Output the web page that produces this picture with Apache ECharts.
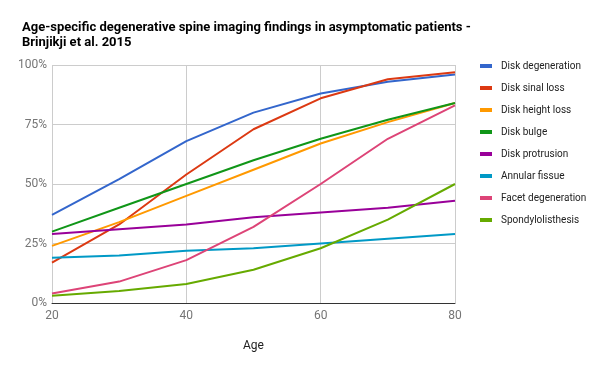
<!DOCTYPE html>
<html><head><meta charset="utf-8">
<script src="https://cdn.jsdelivr.net/npm/echarts@6/dist/echarts.min.js"></script>
<style>html,body{margin:0;padding:0;background:#fff}#c{width:598px;height:366px}</style>
</head><body><div id="c"></div>
<script>
const ages = [20, 30, 40, 50, 60, 70, 80];
const diskDegeneration = [37, 52, 68, 80, 88, 93, 96];
const diskSignalLoss = [17, 33, 54, 73, 86, 94, 97];
const diskHeightLoss = [24, 34, 45, 56, 67, 76, 84];
const diskBulge = [30, 40, 50, 60, 69, 77, 84];
const diskProtrusion = [29, 31, 33, 36, 38, 40, 43];
const annularFissure = [19, 20, 22, 23, 25, 27, 29];
const facetDegeneration = [4, 9, 18, 32, 50, 69, 83];
const spondylolisthesis = [3, 5, 8, 14, 23, 35, 50];
const seriesNames = ['Disk degeneration','Disk sinal loss','Disk height loss','Disk bulge','Disk protrusion','Annular fissue','Facet degeneration','Spondylolisthesis'];
const seriesValues = [diskDegeneration, diskSignalLoss, diskHeightLoss, diskBulge, diskProtrusion, annularFissure, facetDegeneration, spondylolisthesis];
const colors = ['#3366cc','#dc3912','#ff9900','#109618','#990099','#0099c6','#dd4477','#66aa00'];

const chart = echarts.init(document.getElementById('c'));
chart.setOption({
  animation: false,
  color: colors,
  textStyle: {fontFamily: 'Roboto'},
  title: {
    text: 'Age-specific degenerative spine imaging findings in asymptomatic patients -\nBrinjikji et al. 2015',
    left: 17, top: 15,
    textStyle: {fontSize: 13, fontWeight: 'bold', color: '#000', lineHeight: 15, fontFamily: 'Roboto'}
  },
  legend: {
    orient: 'vertical', left: 475, top: 55,
    icon: 'rect', itemWidth: 12, itemHeight: 4, itemGap: 10,
    itemStyle: {borderWidth: 0},
    textStyle: {fontSize: 10, color: '#222', padding: [0,0,0,4], lineHeight: 12},
    data: seriesNames
  },
  grid: {left: 52, right: 143, top: 65, bottom: 63},
  xAxis: {
    type: 'value', min: 20, max: 80, interval: 20,
    name: 'Age', nameLocation: 'middle', nameGap: 37,
    nameTextStyle: {fontSize: 12, color: '#222'},
    axisLine: {show: true, lineStyle: {color: '#333', width: 1}},
    axisTick: {show: false},
    axisLabel: {fontSize: 12, color: '#757575', margin: 7},
    splitLine: {show: true, lineStyle: {color: '#cccccc'}}
  },
  yAxis: {
    type: 'value', min: 0, max: 100, interval: 25,
    axisLine: {show: false}, axisTick: {show: false},
    axisLabel: {fontSize: 12, color: '#757575', margin: 5, formatter: '{value}%'},
    splitLine: {show: true, lineStyle: {color: '#cccccc'}}
  },
  series: seriesNames.map((n, i) => ({
    name: n, type: 'line', showSymbol: false, symbol: 'none',
    lineStyle: {width: 2},
    data: ages.map((a, j) => [a, seriesValues[i][j]])
  }))
});
</script></body></html>
